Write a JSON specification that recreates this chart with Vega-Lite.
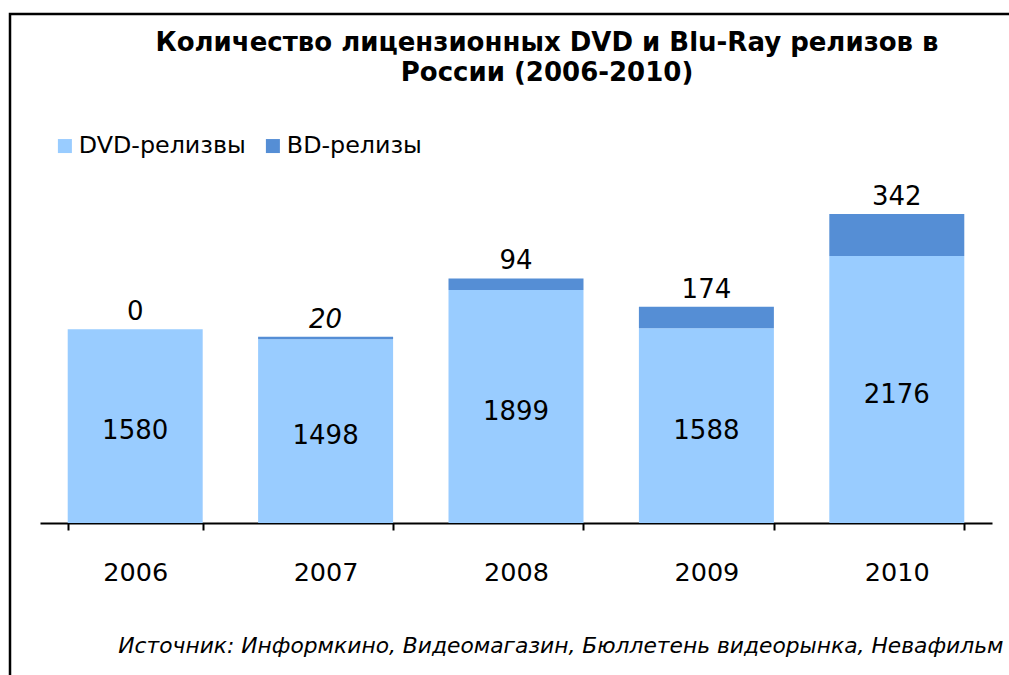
{
  "$schema": "https://vega.github.io/schema/vega-lite/v6.json",
  "width": 1010,
  "height": 666,
  "autosize": {"type": "none"},
  "padding": {"left": 10, "top": 14, "right": 0, "bottom": 0},
  "background": "white",
  "title": {
    "text": ["Количество лицензионных DVD и Blu-Ray релизов в", "России (2006-2010)"],
    "font": "DejaVu Sans",
    "fontSize": 26,
    "fontWeight": "bold",
    "color": "#000000",
    "anchor": "middle",
    "baseline": "top",
    "offset": 0,
    "dy": 72,
    "dx": 32,
    "lineHeight": 30
  },
  "data": {
    "values": [
      {"year": "2006", "dvd": 1580, "bd": 0, "total": 1580},
      {"year": "2007", "dvd": 1498, "bd": 20, "total": 1518},
      {"year": "2008", "dvd": 1899, "bd": 94, "total": 1993},
      {"year": "2009", "dvd": 1588, "bd": 174, "total": 1762},
      {"year": "2010", "dvd": 2176, "bd": 342, "total": 2518}
    ]
  },
  "encoding": {
    "x": {
      "field": "year",
      "type": "nominal",
      "title": "Источник: Информкино, Видеомагазин,  Бюллетень видеорынка, Невафильм",
      "scale": {"range": [30, 982], "paddingInner": 0.291, "paddingOuter": 0.1455},
      "axis": {
        "labelAngle": 0,
        "labelFont": "DejaVu Sans",
        "labelFontSize": 25.5,
        "labelColor": "#000000",
        "labelPadding": 30,
        "domainColor": "#000000",
        "domainWidth": 2,
        "tickColor": "#000000",
        "tickWidth": 2,
        "tickSize": 7,
        "tickBand": "extent",
        "offset": -157,
        "titleFont": "DejaVu Sans",
        "titleFontSize": 21.8,
        "titleFontStyle": "italic",
        "titleFontWeight": "normal",
        "titleColor": "#000000",
        "titleX": 993,
        "titleY": 122,
        "titleAlign": "right",
        "titleBaseline": "middle",
        "titleAnchor": "end",
        "titleLimit": 1000
      }
    }
  },
  "layer": [
    {
      "mark": {"type": "bar"},
      "encoding": {
        "y": {"field": "dvd", "type": "quantitative", "axis": null,
              "scale": {"domain": [0, 2600], "range": [509, 190], "nice": false, "zero": true}},
        "color": {
          "datum": "DVD-релизвы",
          "scale": {"domain": ["DVD-релизвы", "BD-релизы"], "range": ["#99CCFF", "#558ED5"]},
          "legend": {
            "orient": "none",
            "legendX": 43,
            "legendY": 120,
            "direction": "horizontal",
            "title": null,
            "symbolType": "square",
            "symbolSize": 196,
            "symbolStrokeWidth": 0,
            "labelFont": "DejaVu Sans",
            "labelFontSize": 23.8,
            "labelColor": "#000000",
            "labelOffset": 2,
            "labelLimit": 400,
            "columnPadding": 15,
            "padding": 0
          }
        }
      }
    },
    {
      "mark": {"type": "bar"},
      "encoding": {
        "y": {"field": "dvd", "type": "quantitative", "axis": null,
              "scale": {"domain": [0, 2600], "range": [509, 190], "nice": false, "zero": true}},
        "y2": {"field": "total"},
        "color": {"datum": "BD-релизы"}
      }
    },
    {
      "mark": {"type": "text", "font": "DejaVu Sans", "fontSize": 26, "color": "#000000", "baseline": "middle", "dy": 5},
      "encoding": {
        "y": {"field": "dvd", "type": "quantitative", "axis": null,
              "scale": {"domain": [0, 5200], "range": [509, 190], "nice": false, "zero": true}},
        "text": {"field": "dvd", "type": "quantitative"}
      }
    },
    {
      "transform": [{"filter": "datum.year != '2007'"}],
      "mark": {"type": "text", "font": "DejaVu Sans", "fontSize": 26, "color": "#000000", "baseline": "middle", "dy": -17},
      "encoding": {
        "y": {"field": "total", "type": "quantitative", "axis": null,
              "scale": {"domain": [0, 2600], "range": [509, 190], "nice": false, "zero": true}},
        "text": {"field": "bd", "type": "quantitative"}
      }
    },
    {
      "transform": [{"filter": "datum.year == '2007'"}],
      "mark": {"type": "text", "font": "DejaVu Sans", "fontSize": 26, "fontStyle": "italic", "color": "#000000", "baseline": "middle", "dy": -17},
      "encoding": {
        "y": {"field": "total", "type": "quantitative", "axis": null,
              "scale": {"domain": [0, 2600], "range": [509, 190], "nice": false, "zero": true}},
        "text": {"field": "bd", "type": "quantitative"}
      }
    }
  ],
  "resolve": {"scale": {"y": "independent"}},
  "config": {
    "view": {"stroke": "#000000", "strokeWidth": 2.5, "fill": null}
  }
}
